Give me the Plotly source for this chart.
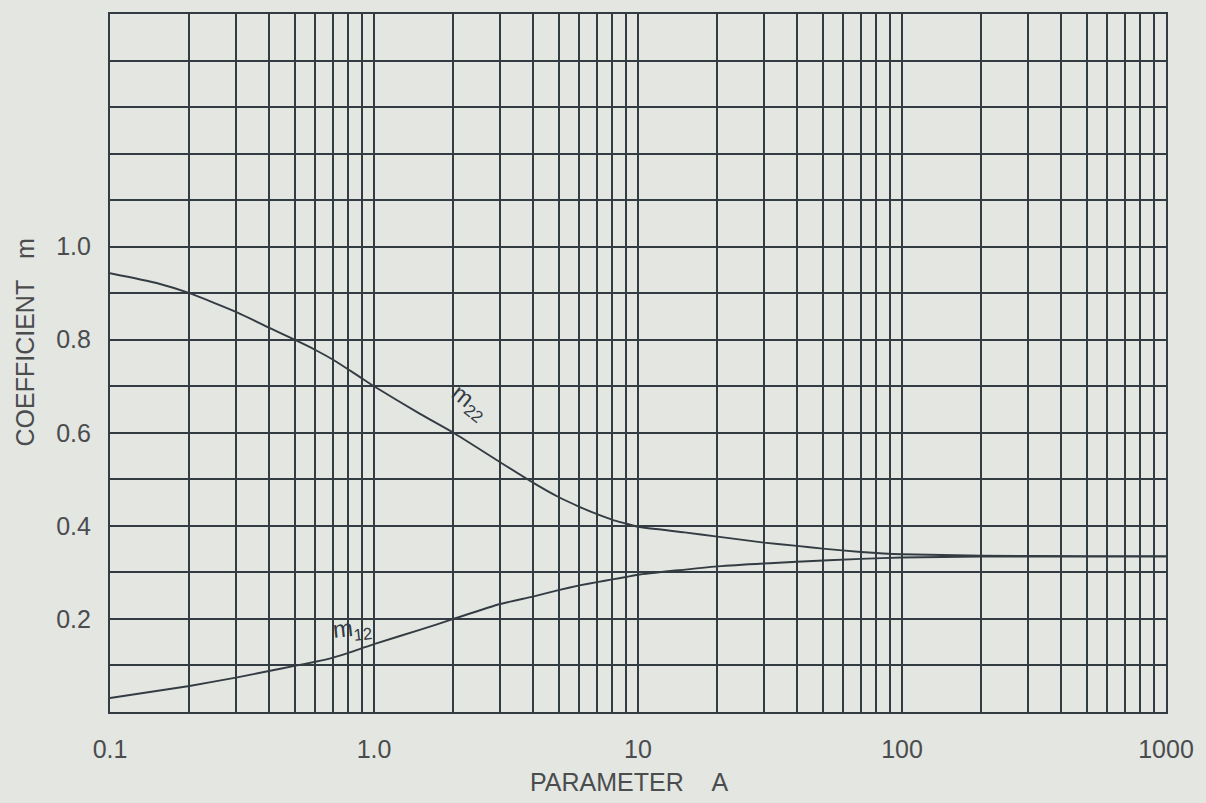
import plotly.graph_objects as go

# ---- data ----
x_m22 = [0.1, 0.15, 0.2, 0.3, 0.4, 0.5, 0.6, 0.7, 0.8, 0.9, 1.0, 1.5, 2, 3, 4, 5, 6, 7, 8, 9,
         10, 15, 20, 30, 40, 50, 70, 100, 200, 500, 1000]
m22 = [0.943, 0.922, 0.900, 0.860, 0.826, 0.800, 0.778, 0.757, 0.736, 0.717, 0.700, 0.640, 0.600,
       0.537, 0.493, 0.462, 0.441, 0.425, 0.413, 0.405, 0.398, 0.386, 0.377, 0.364, 0.357, 0.351,
       0.344, 0.339, 0.336, 0.335, 0.335]

x_m12 = [0.1, 0.2, 0.3, 0.4, 0.5, 0.6, 0.7, 0.8, 0.9, 1.0, 1.5, 2, 3, 4, 5, 6, 7, 8, 9, 10,
         20, 40, 70, 100, 200, 500, 1000]
m12 = [0.030, 0.056, 0.074, 0.088, 0.099, 0.108, 0.117, 0.127, 0.137, 0.146, 0.177, 0.200,
       0.232, 0.248, 0.262, 0.272, 0.279, 0.285, 0.290, 0.295, 0.313, 0.323, 0.329, 0.332,
       0.334, 0.334, 0.334]

x_tick_vals = [0.1, 1, 10, 100, 1000]
x_tick_text = ["0.1", "1.0", "10", "100", "1000"]
x_minor_vals = [m * 10 ** e for e in (-1, 0, 1, 2) for m in range(2, 10)]

y_tick_vals = [0.2, 0.4, 0.6, 0.8, 1.0]
y_tick_text = ["0.2", "0.4", "0.6", "0.8", "1.0"]
y_minor_vals = [i / 10 for i in range(0, 16)]

# ---- style ----
PAPER = "#e3e6e1"
INK = "#343c43"
TEXT = "#4a4c4e"
FONT = "Liberation Sans, Arial, sans-serif"

W, H = 1206, 803
L, R, T, B = 110, 34, 14, 91

fig = go.Figure()
line_style = dict(color=INK, width=1.9, shape="spline", smoothing=0.5)
fig.add_trace(go.Scatter(x=x_m22, y=m22, mode="lines", line=line_style,
                         name="m22", showlegend=False, hoverinfo="skip"))
fig.add_trace(go.Scatter(x=x_m12, y=m12, mode="lines", line=line_style,
                         name="m12", showlegend=False, hoverinfo="skip"))

fig.add_annotation(x=0.36, y=0.665, xref="x", yref="y", text="m<sub>22</sub>", showarrow=False,
                   xanchor="center", yanchor="middle",
                   textangle=38, font=dict(family=FONT, size=24, color=INK))
fig.add_annotation(x=-0.08, y=0.177, xref="x", yref="y", text="m<sub>12</sub>", showarrow=False,
                   xanchor="center", yanchor="middle",
                   textangle=-6, font=dict(family=FONT, size=24, color=INK))


def px_to_paper(px, py):
    return (px - L) / (W - L - R), 1 - (py - T) / (H - T - B)


ax, ay = px_to_paper(25, 342)
fig.add_annotation(x=ax, y=ay, xref="paper", yref="paper", text="COEFFICIENT\u00a0\u00a0\u00a0m",
                   showarrow=False, textangle=-90, xanchor="center", yanchor="middle",
                   font=dict(family=FONT, size=25, color=TEXT))
ax, ay = px_to_paper(632, 782)
fig.add_annotation(x=ax, y=ay, xref="paper", yref="paper", text="PARAMETER\u00a0\u00a0\u00a0\u00a0A",
                   showarrow=False, xanchor="center", yanchor="middle",
                   font=dict(family=FONT, size=25, color=TEXT))

fig.update_layout(
    width=W, height=H,
    margin=dict(l=L, r=R, t=T, b=B),
    paper_bgcolor=PAPER, plot_bgcolor=PAPER,
    font=dict(family=FONT, size=25, color=TEXT),
    xaxis=dict(type="log", range=[-1, 3], tickmode="array", tickvals=x_tick_vals, ticktext=x_tick_text,
               showgrid=True, gridcolor=INK, gridwidth=1.9, ticks="", ticklabelstandoff=14,
               showline=True, linecolor=INK, linewidth=2.2, mirror=True, zeroline=False,
               minor=dict(tickmode="array", tickvals=x_minor_vals, showgrid=True, gridcolor=INK,
                          gridwidth=1.9, ticks="")),
    yaxis=dict(range=[0, 1.5], tickmode="array", tickvals=y_tick_vals, ticktext=y_tick_text,
               showgrid=True, gridcolor=INK, gridwidth=1.9, ticks="", ticklabelstandoff=12,
               showline=True, linecolor=INK, linewidth=2.2, mirror=True, zeroline=False,
               minor=dict(tickmode="array", tickvals=y_minor_vals, showgrid=True, gridcolor=INK,
                          gridwidth=1.9, ticks="")),
)

fig.write_html(
    "out.html",
    config={"displayModeBar": False},
    post_script="document.body.style.margin='0px';document.body.style.background='" + PAPER + "';",
)
